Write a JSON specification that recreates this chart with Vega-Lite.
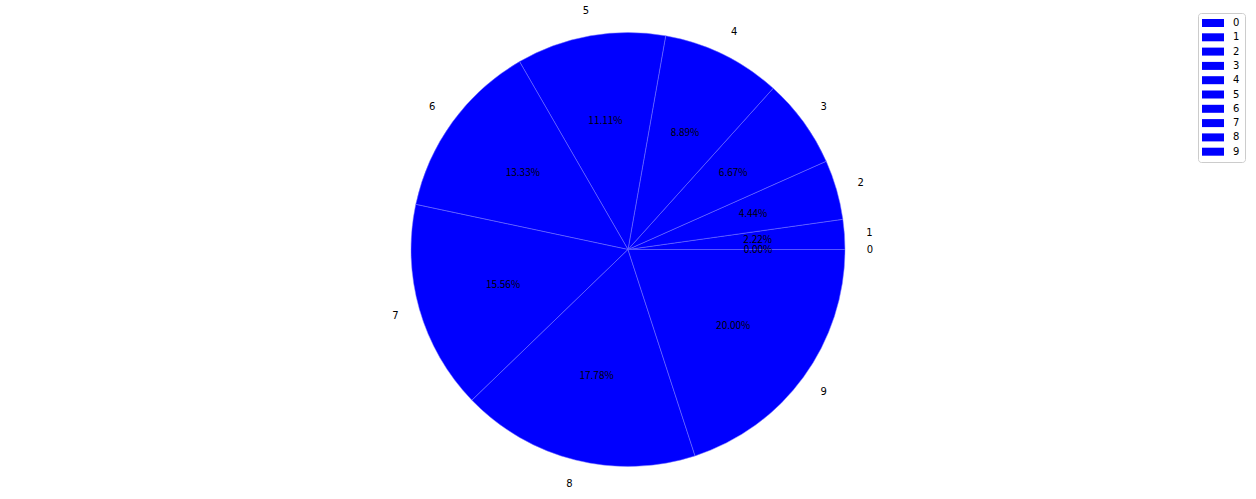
{
  "$schema": "https://vega.github.io/schema/vega-lite/v6.json",
  "width": 1256,
  "height": 499,
  "autosize": {"type": "none"},
  "padding": 0,
  "background": "white",
  "config": {
    "view": {"stroke": null},
    "legend": {
      "orient": "none",
      "legendX": 1198,
      "legendY": 13,
      "padding": 5,
      "fillColor": "white",
      "strokeColor": "#cccccc",
      "cornerRadius": 3,
      "symbolType": "M-2.75,-1H2.75V1H-2.75Z",
      "symbolSize": 64,
      "symbolOffset": 5,
      "symbolStrokeWidth": 0,
      "symbolOpacity": 1,
      "labelOffset": 15,
      "labelFont": "DejaVu Sans",
      "labelFontSize": 10,
      "labelColor": "black",
      "rowPadding": 4.3,
      "title": null
    }
  },
  "data": {
    "values": [
      {"k": "0", "v": 0, "pct": "0.00%"},
      {"k": "1", "v": 1, "pct": "2.22%"},
      {"k": "2", "v": 2, "pct": "4.44%"},
      {"k": "3", "v": 3, "pct": "6.67%"},
      {"k": "4", "v": 4, "pct": "8.89%"},
      {"k": "5", "v": 5, "pct": "11.11%"},
      {"k": "6", "v": 6, "pct": "13.33%"},
      {"k": "7", "v": 7, "pct": "15.56%"},
      {"k": "8", "v": 8, "pct": "17.78%"},
      {"k": "9", "v": 9, "pct": "20.00%"}
    ]
  },
  "encoding": {
    "theta": {
      "field": "v",
      "type": "quantitative",
      "stack": true,
      "scale": {"domain": [0, 45], "range": [1.5707963, -4.712389]}
    },
    "order": {"field": "v", "type": "quantitative"}
  },
  "layer": [
    {
      "mark": {"type": "arc", "outerRadius": 217, "stroke": "#7a7aff", "strokeWidth": 0.5},
      "encoding": {
        "color": {
          "field": "k",
          "type": "nominal",
          "scale": {"range": ["#0000ff"]},
          "legend": {"title": null}
        }
      }
    },
    {
      "mark": {"type": "text", "radius": 242, "font": "DejaVu Sans", "fontSize": 10, "color": "black", "align": "center", "baseline": "middle"},
      "encoding": {
        "detail": {"field": "k", "type": "nominal"},
        "text": {"field": "k"}
      }
    },
    {
      "mark": {"type": "text", "radius": 130, "font": "Noto Sans CJK SC", "fontSize": 10, "color": "black", "align": "center", "baseline": "middle"},
      "encoding": {
        "detail": {"field": "k", "type": "nominal"},
        "text": {"field": "pct"}
      }
    }
  ]
}
